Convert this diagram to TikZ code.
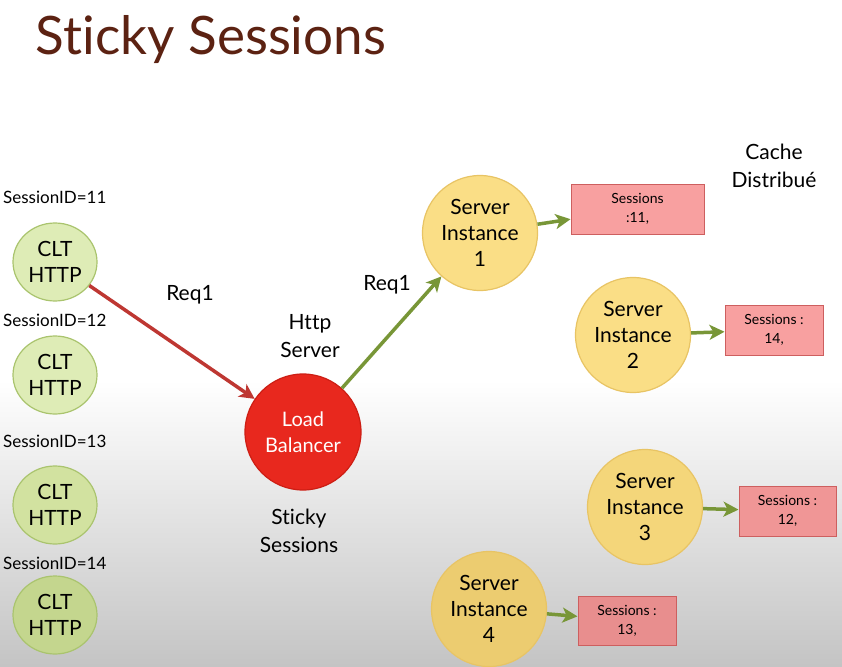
\documentclass[tikz,border=0pt]{standalone}
\usepackage{fontspec}
\setmainfont{Lato}[Ligatures={NoCommon,NoRare}]
\usetikzlibrary{arrows.meta,shapes.geometric}
\definecolor{titlebrown}{RGB}{92,34,18}
\definecolor{cltfill}{RGB}{222,236,182}
\definecolor{cltdraw}{RGB}{170,196,110}
\definecolor{srvfill}{RGB}{250,222,134}
\definecolor{srvdraw}{RGB}{232,196,100}
\definecolor{lbfill}{RGB}{232,40,30}
\definecolor{lbdraw}{RGB}{205,30,20}
\definecolor{boxfill}{RGB}{248,160,160}
\definecolor{boxdraw}{RGB}{205,95,95}
\definecolor{redarrow}{RGB}{190,55,50}
\definecolor{greenarrow}{RGB}{120,150,55}
\tikzset{
  clt/.style={ellipse, draw=cltdraw, line width=1.2pt, fill=cltfill, minimum width=84pt, minimum height=78pt, inner sep=0pt, align=center, font=\fontsize{21}{26}\selectfont},
  srv/.style={circle, draw=srvdraw, line width=1.2pt, fill=srvfill, minimum size=115pt, inner sep=0pt, align=center, font=\fontsize{21}{26}\selectfont},
  lb/.style={circle, draw=lbdraw, line width=1.2pt, fill=lbfill, minimum size=116pt, inner sep=0pt, align=center, text=white, font=\fontsize{20}{26}\selectfont},
  sbox/.style={rectangle, draw=boxdraw, line width=1pt, fill=boxfill, inner sep=0pt, align=center, font=\fontsize{14}{19}\selectfont},
  sid/.style={anchor=west, inner sep=0pt, font=\fontsize{17}{20}\selectfont},
  lbl/.style={inner sep=0pt, align=center, font=\fontsize{21}{28}\selectfont},
  redarr/.style={draw=redarrow, line width=3.5pt, -{Stealth[length=15pt,width=15pt,inset=4pt]}},
  grnarr/.style={draw=greenarrow, line width=3.5pt, -{Stealth[length=15pt,width=15pt,inset=4pt]}},
}
\begin{document}
\begin{tikzpicture}[x=1pt,y=-1pt]
\useasboundingbox (0,0) rectangle (842,666);
\fill[white] (0,0) rectangle (842,380);
\shade[top color=white, bottom color={rgb,255:red,196;green,196;blue,196}] (0,380) rectangle (842,666);
\node[inner sep=0pt, text=titlebrown, font=\fontsize{53}{60}\selectfont] (title) at (211,40) {Sticky Sessions};

\node[sid] (s11) at (3,197) {SessionID=11};
\node[sid] (s12) at (3,320) {SessionID=12};
\node[sid] (s13) at (3,441) {SessionID=13};
\node[sid] (s14) at (3,563) {SessionID=14};

\node[clt] (c1) at (55,262) {CLT\\HTTP};
\node[clt] (c2) at (55,375) {CLT\\HTTP};
\node[clt, fill={rgb,255:red,210;green,226;blue,160}] (c3) at (55,505) {CLT\\HTTP};
\node[clt, fill={rgb,255:red,196;green,214;blue,142}] (c4) at (55,615) {CLT\\HTTP};

\node[lb] (lb) at (303,432) {Load\\Balancer};
\node[lbl] (http) at (310,336) {Http\\Server};
\node[lbl] (sticky) at (299,531) {Sticky\\Sessions};
\node[lbl] (req1a) at (190,295) {Req1};
\node[lbl] (req1b) at (387,285) {Req1};
\node[lbl] (cache) at (774,166) {Cache\\Distribué};

\node[srv] (si1) at (480,233) {Server\\Instance\\1};
\node[srv] (si2) at (633,335) {Server\\Instance\\2};
\node[srv, fill={rgb,255:red,244;green,214;blue,122}] (si3) at (645,507) {Server\\Instance\\3};
\node[srv, fill={rgb,255:red,236;green,204;blue,112}] (si4) at (489,609) {Server\\Instance\\4};

\node[sbox, minimum width=133pt, minimum height=50pt] (b1) at (637.5,209) {Sessions\\:11,};
\node[sbox, minimum width=98pt, minimum height=50pt] (b2) at (774,330) {Sessions :\\14,};
\node[sbox, minimum width=97pt, minimum height=50pt, fill={rgb,255:red,240;green,150;blue,150}] (b3) at (787.5,511) {Sessions :\\12,};
\node[sbox, minimum width=98pt, minimum height=49pt, fill={rgb,255:red,232;green,142;blue,142}] (b4) at (627,620.5) {Sessions :\\13,};

\draw[redarr] (c1) -- (lb);
\draw[grnarr] (lb) -- (si1);
\draw[grnarr] (si1) -- (b1);
\draw[grnarr] (si2) -- (b2);
\draw[grnarr] (si3) -- (b3);
\draw[grnarr] (si4) -- (b4);
\end{tikzpicture}
\end{document}
